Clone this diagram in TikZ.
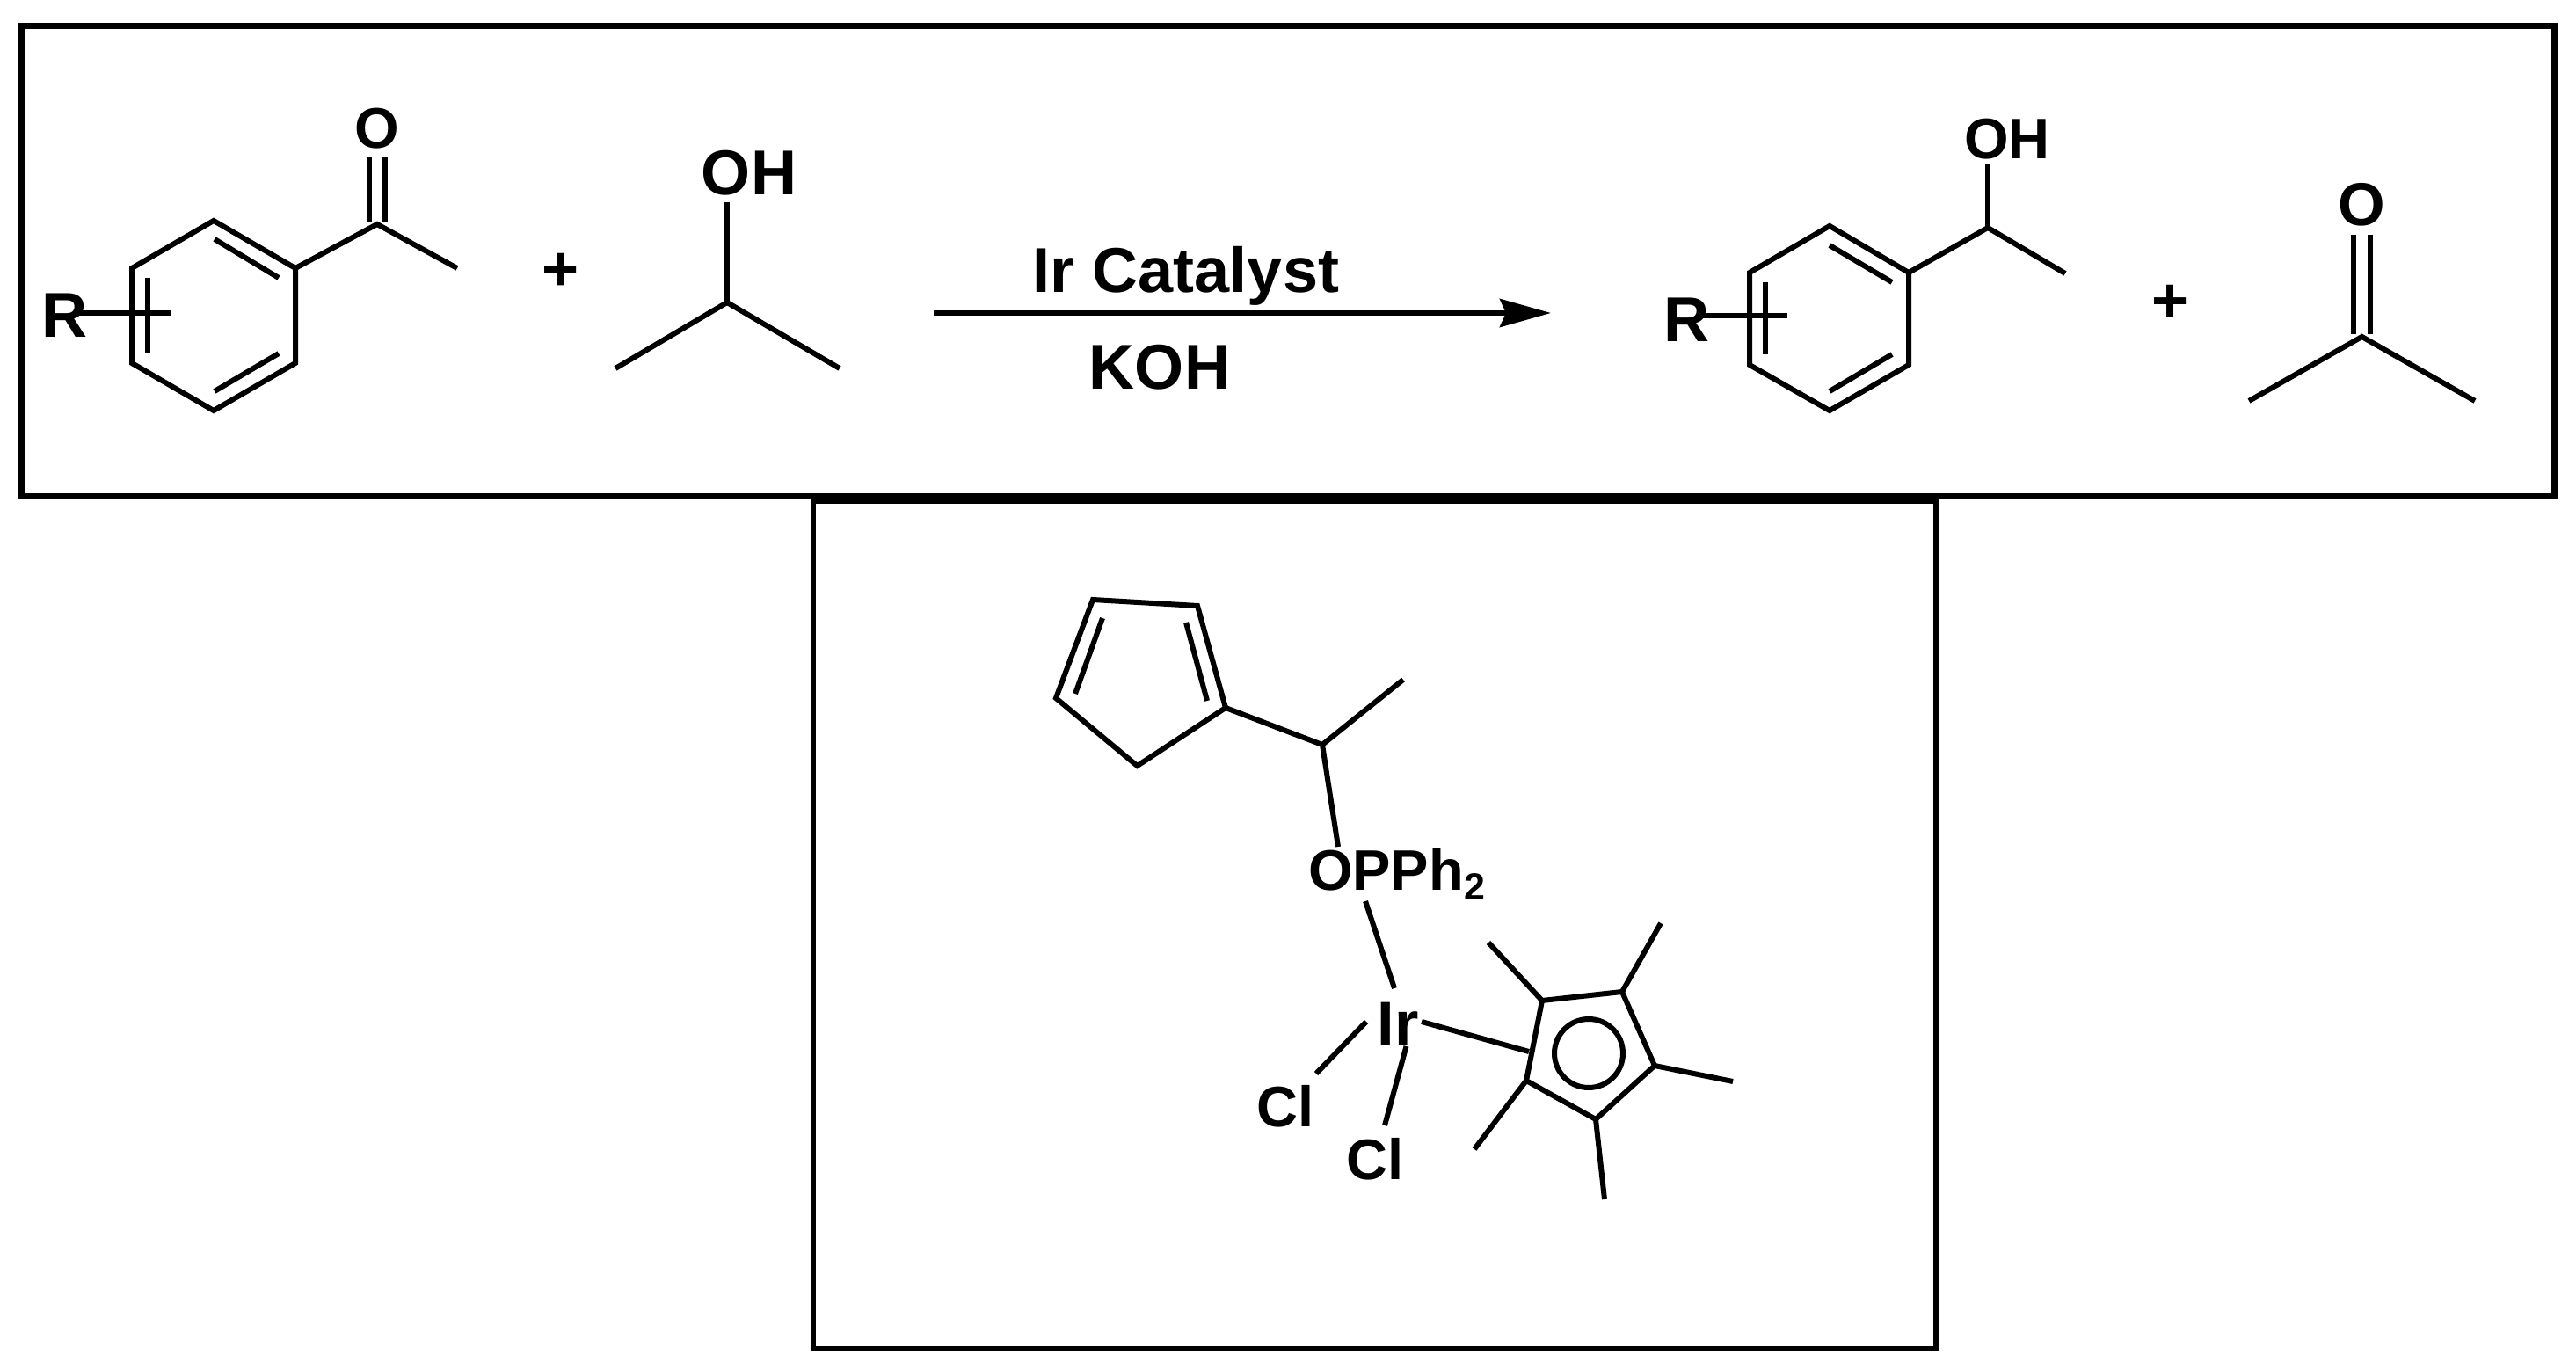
\documentclass[tikz,border=0pt]{standalone}
\usepackage{fontspec}
\setmainfont{Liberation Sans}
\usetikzlibrary{arrows.meta}
\newcommand{\lowidx}[1]{\raisebox{-0.16em}{\fontsize{12.2pt}{14pt}\selectfont #1}}

\begin{document}
\begin{tikzpicture}[y=-1cm,
  biglab/.style={font=\bfseries\fontsize{20.5pt}{24pt}\selectfont, inner sep=0pt, outer sep=0pt, anchor=base},
  midlab/.style={font=\bfseries\fontsize{18.5pt}{22pt}\selectfont, inner sep=0pt, outer sep=0pt, anchor=base},
  bond/.style={line width=0.06cm, line join=miter},
  boxline/.style={line width=0.07cm}]
\useasboundingbox (0,0) rectangle (29.30,15.57);

\draw[boxline] (0.24,0.295) rectangle (29.05,5.645);
\draw[boxline, line width=0.055cm] (9.25,5.70) rectangle (22.02,15.34);

\coordinate (pa) at (2.43,2.51);
\coordinate (pb) at (3.36,3.05);
\coordinate (pc) at (3.36,4.13);
\coordinate (pd) at (2.43,4.67);
\coordinate (pe) at (1.50,4.13);
\coordinate (pf) at (1.50,3.05);
\coordinate (pco) at (4.29,2.55);
\coordinate (pme) at (5.20,3.05);
\draw[bond] (pa) -- (pb) -- (pc) -- (pd) -- (pe) -- (pf) -- cycle;
\draw[bond] (2.44,2.72) -- (3.17,3.16);
\draw[bond] (3.17,4.02) -- (2.44,4.45);
\draw[bond] (1.68,3.16) -- (1.68,4.02);
\draw[bond] (0.89,3.56) -- (1.95,3.56);
\draw[bond] (pb) -- (pco) -- (pme);
\draw[bond] (4.20,2.53) -- (4.20,1.78);
\draw[bond] (4.375,2.53) -- (4.375,1.78);
\node[biglab] (ra) at (0.74,3.84) {R};
\node[midlab] (oa) at (4.29,1.69) {O};

\node[biglab] (plusa) at (6.38,3.31) {+};

\coordinate (ia) at (8.27,3.44);
\coordinate (ib) at (7.00,4.19);
\coordinate (ic) at (9.55,4.19);
\coordinate (id) at (8.27,2.30);
\draw[bond] (ib) -- (ia) -- (ic);
\draw[bond] (ia) -- (id);
\node[biglab] (oha) at (8.52,2.22) {OH};

\coordinate (arra) at (10.62,3.56);
\coordinate (arrb) at (17.64,3.56);
\draw[-{Stealth[length=0.58cm,width=0.32cm,inset=0.07cm]}, line width=0.06cm] (arra) -- (arrb);
\node[biglab] (cat) at (13.49,3.33) {Ir Catalyst};
\node[biglab] (koh) at (13.19,4.43) {KOH};

\coordinate (qa) at (20.81,2.57);
\coordinate (qb) at (21.71,3.10);
\coordinate (qc) at (21.71,4.15);
\coordinate (qd) at (20.81,4.67);
\coordinate (qe) at (19.90,4.15);
\coordinate (qf) at (19.90,3.10);
\coordinate (qch) at (22.61,2.59);
\coordinate (qme) at (23.49,3.11);
\coordinate (qo) at (22.61,1.875);
\draw[bond] (qa) -- (qb) -- (qc) -- (qd) -- (qe) -- (qf) -- cycle;
\draw[bond] (20.81,2.79) -- (21.52,3.21);
\draw[bond] (21.52,4.03) -- (20.81,4.45);
\draw[bond] (20.08,3.21) -- (20.08,4.03);
\draw[bond] (19.36,3.59) -- (20.33,3.59);
\draw[bond] (qb) -- (qch) -- (qme);
\draw[bond] (qch) -- (qo);
\node[biglab] (rb) at (19.18,3.89) {R};
\node[midlab] (ohb) at (22.83,1.81) {OH};

\node[biglab] (plusb) at (24.69,3.67) {+};

\coordinate (ac) at (26.865,3.83);
\coordinate (al) at (25.58,4.56);
\coordinate (ar) at (28.15,4.56);
\draw[bond] (al) -- (ac) -- (ar);
\draw[bond] (26.77,3.80) -- (26.77,2.67);
\draw[bond] (26.96,3.80) -- (26.96,2.67);
\node[biglab, font=\bfseries\fontsize{19.6pt}{24pt}\selectfont] (ob) at (26.86,2.57) {O};

\coordinate (ca) at (12.43,6.82);
\coordinate (cb) at (13.62,6.89);
\coordinate (cc) at (13.94,8.05);
\coordinate (cd) at (12.935,8.71);
\coordinate (ce) at (12.01,7.94);
\draw[bond] (ca) -- (cb) -- (cc) -- (cd) -- (ce) -- cycle;
\draw[bond] (12.54,7.03) -- (12.23,7.89);
\draw[bond] (13.49,7.08) -- (13.73,7.97);

\coordinate (lch) at (15.04,8.47);
\coordinate (lme) at (15.96,7.73);
\coordinate (lo) at (15.22,9.63);
\draw[bond] (cc) -- (lch) -- (lme);
\draw[bond] (lch) -- (lo);
\node[midlab, anchor=base west] (opph) at (14.88,10.13) {OPPh\lowidx{2}};

\coordinate (ira) at (15.53,10.25);
\coordinate (irb) at (15.86,11.24);
\draw[bond] (ira) -- (irb);
\node[biglab, font=\bfseries\fontsize{20pt}{24pt}\selectfont] (ir) at (15.90,11.88) {Ir};

\coordinate (cla) at (15.54,11.62);
\coordinate (clb) at (14.97,12.21);
\coordinate (clc) at (15.995,11.90);
\coordinate (cld) at (15.75,12.80);
\draw[bond] (cla) -- (clb);
\draw[bond] (clc) -- (cld);
\node[midlab] (cle) at (14.62,12.81) {Cl};
\node[midlab] (clf) at (15.64,13.41) {Cl};

\coordinate (sa) at (17.54,11.38);
\coordinate (sb) at (18.45,11.28);
\coordinate (sc) at (18.82,12.12);
\coordinate (sd) at (18.15,12.73);
\coordinate (se) at (17.36,12.29);
\draw[bond] (sa) -- (sb) -- (sc) -- (sd) -- (se) -- cycle;
\coordinate (sm) at (18.07,11.98);
\draw[bond] (sm) circle (0.39);
\coordinate (ma) at (16.93,10.72);
\coordinate (mb) at (18.89,10.50);
\coordinate (mc) at (19.71,12.30);
\coordinate (md) at (18.25,13.64);
\coordinate (me) at (16.77,13.07);
\draw[bond] (sa) -- (ma);
\draw[bond] (sb) -- (mb);
\draw[bond] (sc) -- (mc);
\draw[bond] (sd) -- (md);
\draw[bond] (se) -- (me);

\coordinate (irc) at (16.17,11.62);
\coordinate (ird) at (17.39,11.96);
\draw[bond] (irc) -- (ird);
\end{tikzpicture}
\end{document}
